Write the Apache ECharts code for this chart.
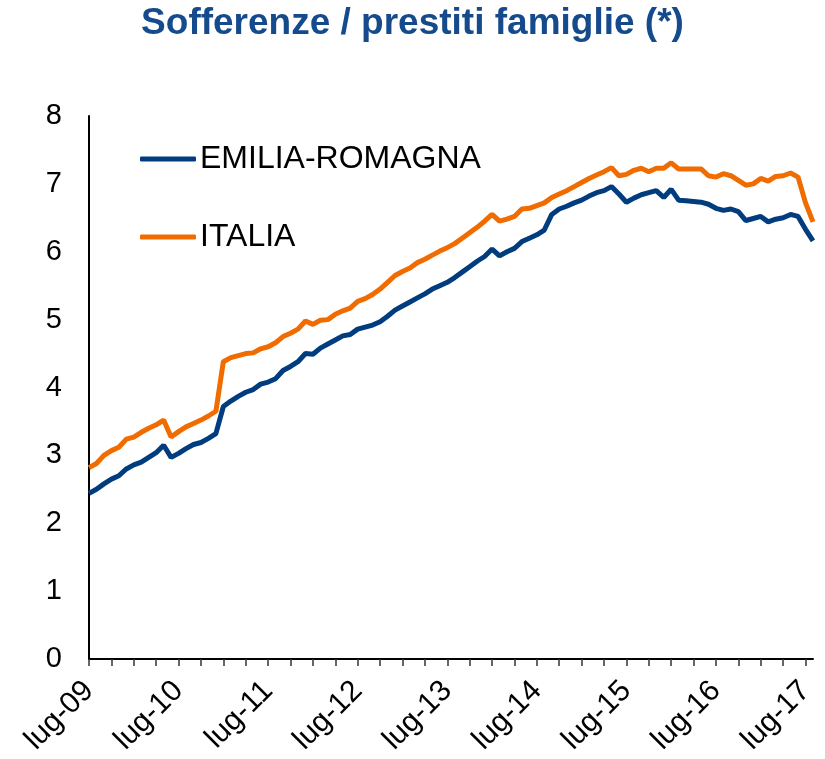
<!DOCTYPE html>
<html>
<head>
<meta charset="utf-8">
<title>Sofferenze / prestiti famiglie</title>
<script src="https://cdn.jsdelivr.net/npm/echarts@6/dist/echarts.min.js"></script>
<style>
  html, body { margin: 0; padding: 0; background: #fff; }
  #chart { width: 825px; height: 759px; }
</style>
</head>
<body>
<div id="chart"></div>
<script>
// mesi da lug-09 a ago-17
const monthNames = ['gen', 'feb', 'mar', 'apr', 'mag', 'giu', 'lug', 'ago', 'set', 'ott', 'nov', 'dic']
const months = []
for (let y = 2009, m = 6; months.length < 98; m++) {
  if (m === 12) { m = 0; y++ }
  months.push(monthNames[m] + '-' + String(y).slice(2))
}

const emiliaRomagna = [
  2.44, 2.50, 2.58, 2.65, 2.70, 2.80, 2.86, 2.90, 2.97, 3.04, 3.15, 2.97,
  3.03, 3.10, 3.16, 3.19, 3.25, 3.32, 3.72, 3.80, 3.87, 3.93, 3.97, 4.05,
  4.08, 4.13, 4.25, 4.31, 4.38, 4.50, 4.49, 4.58, 4.64, 4.70, 4.76, 4.78,
  4.86, 4.89, 4.92, 4.97, 5.05, 5.14, 5.20, 5.26, 5.32, 5.38, 5.45, 5.50,
  5.55, 5.62, 5.70, 5.78, 5.86, 5.93, 6.04, 5.94, 6.00, 6.05, 6.15, 6.20,
  6.25, 6.32, 6.55, 6.63, 6.67, 6.72, 6.76, 6.82, 6.87, 6.90, 6.96, 6.85,
  6.73, 6.79, 6.84, 6.87, 6.90, 6.80, 6.92, 6.76, 6.75, 6.74, 6.73, 6.70,
  6.64, 6.61, 6.63, 6.59, 6.46, 6.49, 6.52, 6.44, 6.48, 6.50, 6.55, 6.52,
  6.33, 6.16
]

const italia = [
  2.82, 2.88, 3.00, 3.07, 3.12, 3.24, 3.27, 3.34, 3.40, 3.45, 3.52, 3.27,
  3.35, 3.42, 3.47, 3.52, 3.58, 3.65, 4.38, 4.44, 4.47, 4.50, 4.51, 4.57,
  4.60, 4.66, 4.75, 4.80, 4.86, 4.98, 4.93, 4.99, 5.00, 5.08, 5.13, 5.17,
  5.27, 5.31, 5.37, 5.45, 5.55, 5.65, 5.71, 5.76, 5.84, 5.89, 5.95, 6.01,
  6.06, 6.12, 6.20, 6.28, 6.36, 6.45, 6.55, 6.45, 6.48, 6.52, 6.63, 6.64,
  6.68, 6.72, 6.80, 6.85, 6.90, 6.96, 7.02, 7.08, 7.13, 7.18, 7.24, 7.12,
  7.14, 7.20, 7.23, 7.18, 7.23, 7.23, 7.31, 7.22, 7.22, 7.22, 7.22, 7.12,
  7.10, 7.15, 7.12, 7.05, 6.98, 7.00, 7.08, 7.04, 7.11, 7.12, 7.16, 7.10,
  6.72, 6.44
]

const yTicks = [0, 1, 2, 3, 4, 5, 6, 7, 8]

const font = 'Liberation Sans, Arial, sans-serif'
const blue = '#003c7e'
const orange = '#f06c00'

const chart = echarts.init(document.getElementById('chart'))
chart.setOption({
  animation: false,
  title: {
    text: 'Sofferenze / prestiti famiglie (*)',
    left: 'center',
    top: 0,
    textStyle: { fontFamily: font, fontSize: 37, fontWeight: 'bold', color: '#154a8c' }
  },
  legend: {
    orient: 'vertical',
    left: 140,
    top: 141,
    padding: 0,
    itemWidth: 56,
    itemHeight: 5,
    itemGap: 42,
    icon: 'roundRect',
    textStyle: { fontFamily: font, fontSize: 32, lineHeight: 36, color: '#000', padding: [0, 0, 0, -1] },
    data: ['EMILIA-ROMAGNA', 'ITALIA']
  },
  grid: { left: 89, right: 12, top: 116, bottom: 100 },
  xAxis: {
    type: 'category',
    data: months,
    boundaryGap: false,
    axisLine: { lineStyle: { color: '#000', width: 2 } },
    axisTick: { interval: 2, length: 7, lineStyle: { color: '#333', width: 1.5 } },
    axisLabel: {
      interval: 11,
      rotate: 45,
      margin: 27,
      fontFamily: font,
      fontSize: 30,
      color: '#000'
    }
  },
  yAxis: {
    type: 'value',
    min: yTicks[0],
    max: yTicks[yTicks.length - 1],
    interval: 1,
    axisLine: { show: true, lineStyle: { color: '#000', width: 2 } },
    axisTick: { show: false },
    splitLine: { show: false },
    axisLabel: { margin: 27, fontFamily: font, fontSize: 29, color: '#000' }
  },
  series: [
    {
      name: 'EMILIA-ROMAGNA',
      type: 'line',
      data: emiliaRomagna,
      showSymbol: false,
      lineStyle: { color: blue, width: 5 },
      itemStyle: { color: blue }
    },
    {
      name: 'ITALIA',
      type: 'line',
      data: italia,
      showSymbol: false,
      lineStyle: { color: orange, width: 5 },
      itemStyle: { color: orange }
    }
  ]
})
</script>
</body>
</html>
